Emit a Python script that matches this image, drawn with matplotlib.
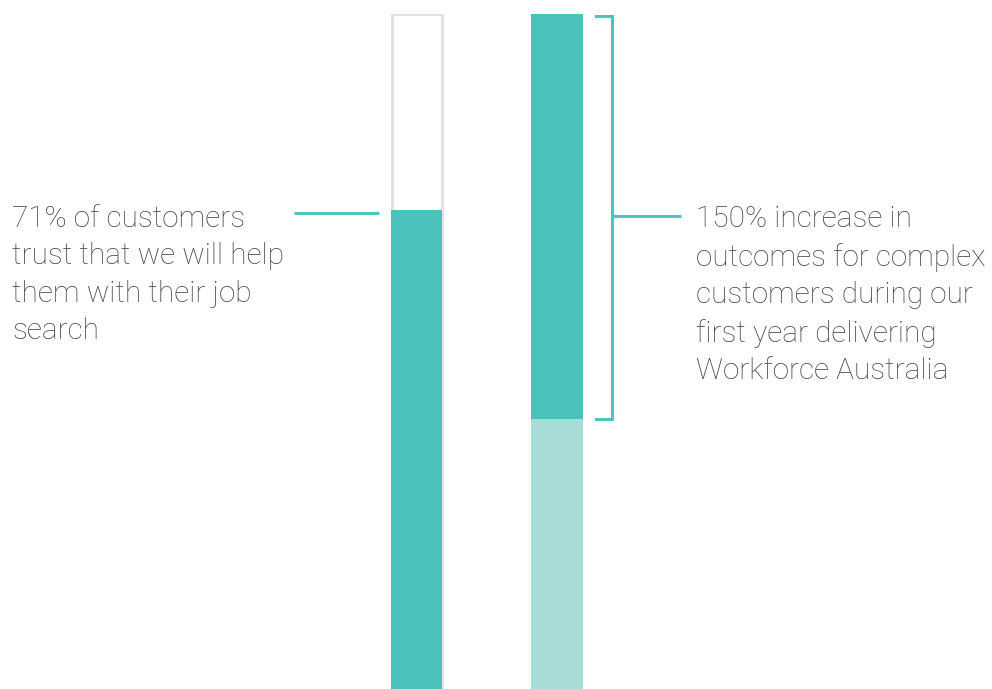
import matplotlib.pyplot as plt

# values
trust_pct = 71            # left bar, share of customers
base_outcomes = 100       # right bar, before
increase_pct = 150        # right bar, increase on top of base

left_label = "71% of customers\ntrust that we will help\nthem with their job\nsearch"
right_label = "150% increase in\noutcomes for complex\ncustomers during our\nfirst year delivering\nWorkforce Australia"

teal = '#4AC1BB'
light_teal = '#A8DCD8'
line_teal = '#4CC4C0'
grey = '#E2E2DE'
text_col = '#444444'

plt.rcParams['font.family'] = ['Roboto', 'DejaVu Sans']

fig = plt.figure(figsize=(9.92, 6.89), dpi=100)
ax = fig.add_axes([0, 0, 1, 675 / 689])
ax.set_xlim(0, 992)
ax.set_ylim(0, 100)
ax.axis('off')

# left bar: outline for 100%, fill for 71%
ax.bar(416.5, 100, width=50, facecolor='white', edgecolor=grey, linewidth=2.2)
ax.bar(416.5, trust_pct, width=51.5, color=teal, linewidth=0)
ax.plot([294, 379], [trust_pct - 0.5, trust_pct - 0.5], color=line_teal, lw=2.2, solid_capstyle='butt')

# right bar on its own scale
ax2 = ax.twinx()
ax2.set_ylim(0, base_outcomes + increase_pct)
ax2.axis('off')
ax2.bar(557, base_outcomes, width=52, color=light_teal, linewidth=0)
ax2.bar(557, increase_pct, bottom=base_outcomes, width=52, color=teal, linewidth=0)

# bracket around the increase
top = base_outcomes + increase_pct
mid = base_outcomes + increase_pct / 2
ax2.plot([596, 612, 612, 596], [top - 0.8, top - 0.8, base_outcomes, base_outcomes],
         color=line_teal, lw=2.2, solid_joinstyle='miter')
ax2.plot([612, 681], [mid, mid], color=line_teal, lw=2.2, solid_capstyle='butt')

fig.text(12 / 992, 1 - 205 / 689, left_label, ha='left', va='top', fontsize=21.4,
         color=text_col, fontweight='light', linespacing=1.43)
fig.text(696 / 992, 1 - 205 / 689, right_label, ha='left', va='top', fontsize=21.4,
         color=text_col, fontweight='light', linespacing=1.43)

plt.savefig('out.png', dpi=100)
